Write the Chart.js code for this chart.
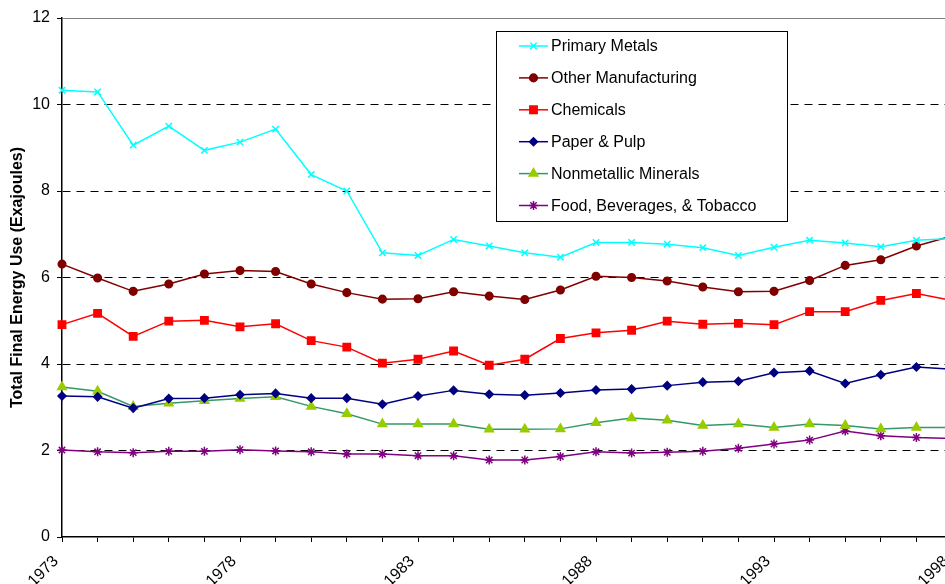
<!DOCTYPE html>
<html>
<head>
<meta charset="utf-8">
<script src="https://cdn.jsdelivr.net/npm/chart.js@4.4.0/dist/chart.umd.min.js"></script>
<style>
  html, body { margin: 0; padding: 0; background: #fff; }
  #wrap { width: 945px; height: 584px; overflow: hidden; position: relative; }
  #energyChart { display: block; }
</style>
</head>
<body>
<div id="wrap"><canvas id="energyChart" width="1000" height="584"></canvas></div>
<script>
// years on the x axis, only every 5th one gets a label
const years = [1973, 1974, 1975, 1976, 1977, 1978, 1979, 1980, 1981, 1982, 1983, 1984, 1985,
               1986, 1987, 1988, 1989, 1990, 1991, 1992, 1993, 1994, 1995, 1996, 1997, 1998];
const xTickLabels = ['1973', '1978', '1983', '1988', '1993', '1998'];
const yTicks = [0, 2, 4, 6, 8, 10, 12];

// Exajoules
const primaryMetals = [10.33, 10.29, 9.06, 9.50, 8.94, 9.13, 9.43, 8.38, 8.00, 6.57, 6.51, 6.88, 6.73,
                       6.57, 6.47, 6.81, 6.81, 6.77, 6.69, 6.51, 6.70, 6.86, 6.80, 6.71, 6.86, 6.90];
const otherManufacturing = [6.31, 5.99, 5.68, 5.85, 6.08, 6.16, 6.14, 5.85, 5.65, 5.50, 5.51, 5.67, 5.57,
                            5.49, 5.71, 6.03, 6.00, 5.92, 5.78, 5.67, 5.68, 5.93, 6.28, 6.41, 6.73, 6.96];
const chemicals = [4.91, 5.17, 4.64, 4.99, 5.01, 4.86, 4.93, 4.54, 4.39, 4.02, 4.11, 4.30, 3.97,
                   4.11, 4.59, 4.72, 4.78, 4.99, 4.92, 4.94, 4.91, 5.21, 5.21, 5.47, 5.63, 5.47];
const paperPulp = [3.26, 3.24, 2.98, 3.20, 3.21, 3.29, 3.32, 3.21, 3.21, 3.07, 3.26, 3.39, 3.30,
                   3.28, 3.33, 3.40, 3.42, 3.50, 3.58, 3.60, 3.80, 3.84, 3.55, 3.75, 3.93, 3.88];
const nonmetallic = [3.47, 3.37, 3.02, 3.09, 3.15, 3.20, 3.24, 3.02, 2.85, 2.61, 2.61, 2.61, 2.49,
                     2.49, 2.50, 2.64, 2.75, 2.70, 2.58, 2.61, 2.53, 2.61, 2.58, 2.50, 2.53, 2.53];
const foodBevTobacco = [2.01, 1.97, 1.95, 1.98, 1.98, 2.02, 1.99, 1.97, 1.92, 1.92, 1.88, 1.88, 1.78,
                        1.78, 1.86, 1.97, 1.94, 1.96, 1.98, 2.05, 2.15, 2.24, 2.45, 2.34, 2.30, 2.28];

const FONT = '"Liberation Sans", Arial, sans-serif';

function series(label, data, lineColor, markColor, style, radius) {
    return {
        label: label,
        data: data,
        borderColor: lineColor,
        backgroundColor: markColor,
        borderWidth: 1.5,
        pointStyle: style,
        pointRadius: radius,
        pointBackgroundColor: markColor,
        pointBorderColor: markColor,
        pointBorderWidth: 1.5,
        tension: 0,
        clip: false
    };
}

// legend box inside the plot + the grey line along the top
const frameAndLegend = {
    id: 'frameAndLegend',
    afterDraw(chart) {
        const ctx = chart.ctx;
        const area = chart.chartArea;
        ctx.save();
        ctx.strokeStyle = '#808080';
        ctx.lineWidth = 1;
        ctx.beginPath();
        ctx.moveTo(area.left, area.top + 0.5);
        ctx.lineTo(area.right, area.top + 0.5);
        ctx.stroke();

        // legend
        const bx = 496, by = 31, bw = 291, bh = 190;
        ctx.fillStyle = '#fff';
        ctx.fillRect(bx, by, bw, bh);
        ctx.strokeStyle = '#000';
        ctx.lineWidth = 1;
        ctx.strokeRect(bx + 0.5, by + 0.5, bw, bh);

        ctx.font = '16px ' + FONT;
        ctx.textBaseline = 'middle';
        chart.data.datasets.forEach((ds, i) => {
            const y = 46 + i * 31.9;
            ctx.strokeStyle = ds.borderColor;
            ctx.lineWidth = 1.5;
            ctx.beginPath();
            ctx.moveTo(519, y);
            ctx.lineTo(548, y);
            ctx.stroke();
            ctx.fillStyle = ds.pointBackgroundColor;
            ctx.strokeStyle = ds.pointBorderColor;
            Chart.helpers.drawPoint(ctx, {
                pointStyle: ds.pointStyle,
                radius: ds.pointRadius,
                rotation: 0,
                borderWidth: ds.pointBorderWidth
            }, 533.5, y);
            ctx.fillStyle = '#000';
            ctx.fillText(ds.label, 551, y + 1);
        });
        ctx.restore();
    }
};

function drawChart() {
    const ctx = document.getElementById('energyChart').getContext('2d');
    window.energyChart = new Chart(ctx, {
        type: 'line',
        data: {
            labels: years,
            datasets: [
                series('Primary Metals', primaryMetals, '#00FFFF', '#00FFFF', 'crossRot', 4.5),
                series('Other Manufacturing', otherManufacturing, '#800000', '#800000', 'circle', 3.8),
                series('Chemicals', chemicals, '#FF0000', '#FF0000', 'rect', 5.2),
                series('Paper & Pulp', paperPulp, '#000080', '#000080', 'rectRot', 4),
                series('Nonmetallic Minerals', nonmetallic, '#339966', '#99CC00', 'triangle', 5),
                series('Food, Beverages, & Tobacco', foodBevTobacco, '#800080', '#800080', 'star', 4.5)
            ]
        },
        options: {
            responsive: false,
            animation: false,
            devicePixelRatio: 1,
            layout: { padding: { left: 0, top: 18, right: 48, bottom: 0 } },
            plugins: {
                legend: { display: false },
                tooltip: { enabled: false }
            },
            scales: {
                x: {
                    type: 'category',
                    offset: false,
                    grid: {
                        display: true,
                        drawOnChartArea: false,
                        drawTicks: true,
                        tickLength: 5,
                        tickColor: '#000',
                        tickWidth: 1
                    },
                    border: { display: true, color: '#000', width: 1.5 },
                    ticks: {
                        autoSkip: false,
                        maxRotation: 45,
                        minRotation: 45,
                        padding: 10,
                        labelOffset: -6,
                        color: '#000',
                        font: { family: FONT, size: 16 },
                        callback: function (val, i) {
                            const lab = String(years[i]);
                            return xTickLabels.includes(lab) ? lab : '';
                        }
                    },
                    afterFit(scale) { scale.height = 47; }
                },
                y: {
                    min: 0,
                    max: 12,
                    afterBuildTicks(scale) { scale.ticks = yTicks.map(v => ({ value: v })); },
                    grid: {
                        color: c => (c.tick && (c.tick.value === 0 || c.tick.value === 12)) ? 'rgba(0,0,0,0)' : '#000',
                        lineWidth: 1,
                        tickLength: 5,
                        tickColor: '#000',
                        tickWidth: 1
                    },
                    border: { display: true, color: '#000', width: 1.5, dash: [8, 6] },
                    ticks: {
                        color: '#000',
                        padding: 7,
                        font: { family: FONT, size: 16 }
                    },
                    title: {
                        display: true,
                        text: 'Total Final Energy Use (Exajoules)',
                        color: '#000',
                        font: { family: FONT, size: 16, weight: 'bold' },
                        padding: { top: 8, bottom: 0 }
                    },
                    afterFit(scale) { scale.width = 62; }
                }
            }
        },
        plugins: [frameAndLegend]
    });
}

window.onload = function () {
    drawChart();
};
</script>
</body>
</html>
